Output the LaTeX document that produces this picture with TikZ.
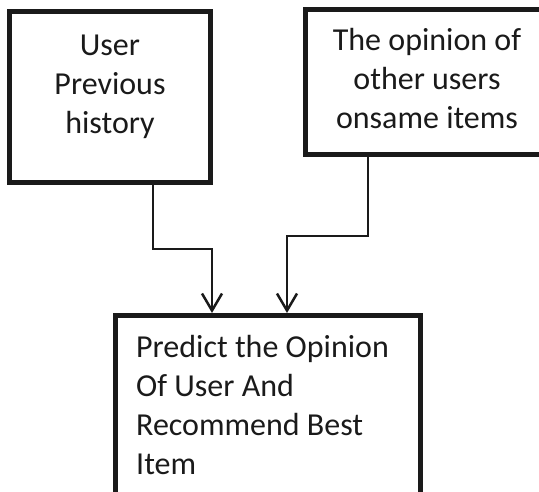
\documentclass[tikz,border=0pt]{standalone}
\usepackage{fontspec}
\setmainfont{Carlito}
\usetikzlibrary{arrows.meta}
\definecolor{ink}{HTML}{1A1A1A}
\begin{document}
\begin{tikzpicture}[x=1pt,y=-1pt,
  box/.style={draw=ink,line width=5pt,inner sep=0pt},
  txt/.style={inner sep=0pt,text=ink,font=\fontsize{32}{39}\selectfont},
  conn/.style={draw=ink,line width=2.5pt,-{Straight Barb[length=17pt,width=20pt]}}]
\useasboundingbox (0,0) rectangle (539,492);
\clip (0,0) rectangle (539,492);

% boxes
\node[box,minimum width=201pt,minimum height=171pt] (b1) at (110,97) {};
\node[box,minimum width=243.5pt,minimum height=145pt] (b2) at (427.25,82) {};
\node[box,minimum width=305pt,minimum height=189.5pt] (b3) at (268,410.25) {};

% box texts
\node[txt,align=center] (t1) at (110,87) {User\\Previous\\history};
\node[txt,align=center] (t2) at (427,79) {The opinion of\\other users\\onsame items};
\node[txt,align=left,anchor=north west] (t3) at (136,335) {Predict the Opinion\\Of User And\\Recommend Best\\Item};

% bend points of the connectors
\coordinate (k1) at (153,249);
\coordinate (k2) at (212,249);
\coordinate (k3) at (368,236);
\coordinate (k4) at (287,236);

% connectors
\draw[conn] (b1.south -| k1) -- (k1) -- (k2) -- (b3.north -| k2);
\draw[conn] (b2.south -| k3) -- (k3) -- (k4) -- (b3.north -| k4);
\end{tikzpicture}
\end{document}
